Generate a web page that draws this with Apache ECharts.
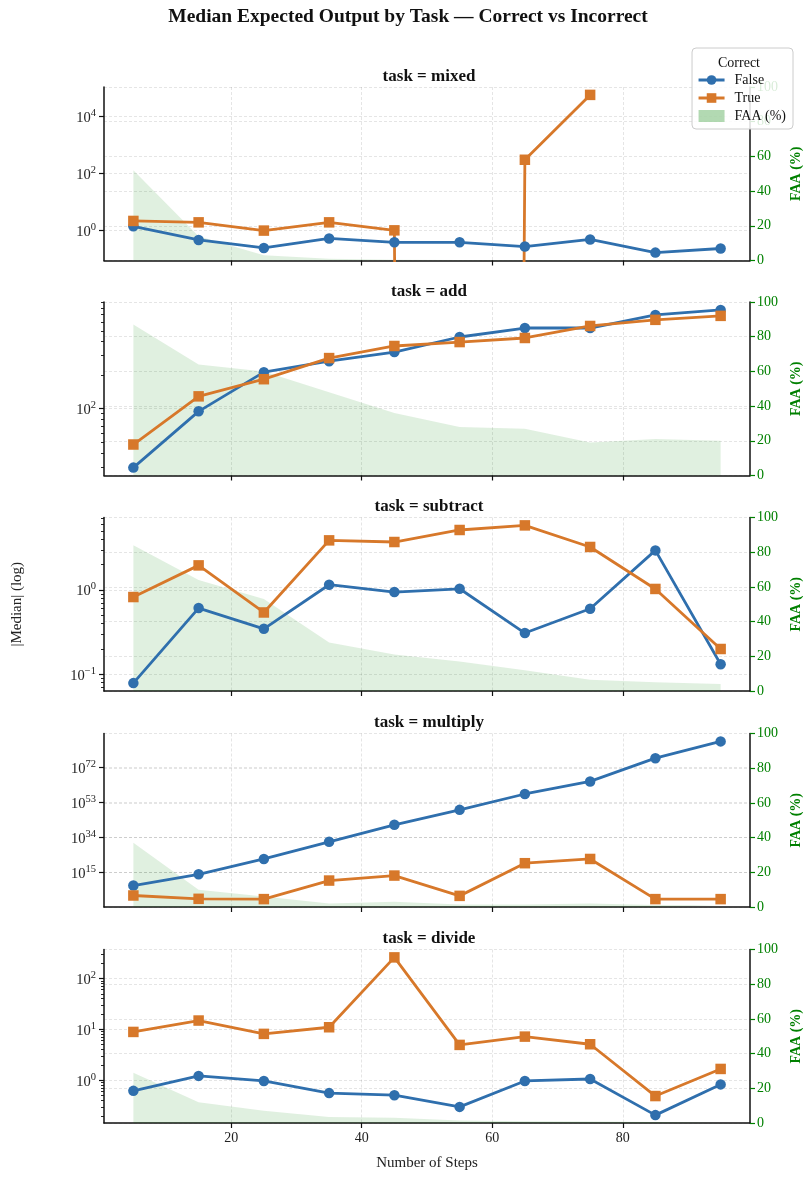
<!DOCTYPE html>
<html><head><meta charset="utf-8">
<script src="https://cdn.jsdelivr.net/npm/echarts@6/dist/echarts.min.js"></script>
<style>html,body{margin:0;padding:0;background:#fff}#c{width:806px;height:1178px}</style>
</head><body><div id="c"></div>
<script>
// ---------------- data ----------------
const steps = [5, 15, 25, 35, 45, 55, 65, 75, 85, 95];
const xTicks = [20, 40, 60, 80];
const tasks = ['mixed', 'add', 'subtract', 'multiply', 'divide'];

const mixedFalse = [1.38, 0.46, 0.24, 0.52, 0.38, 0.38, 0.27, 0.48, 0.165, 0.23];
const mixedTrue  = [2.14, 1.91, 0.98, 1.91, 1.0, 0, 302, 57500, null, null];
const mixedFAA   = [52, 14, 3, 1, 0.5, 0.3, 0.3, 0.3, 0.3, 0.3];

const addFalse = [29.5, 94.6, 213, 267, 323, 441, 531, 531, 697, 773];
const addTrue  = [47.6, 129, 184, 285, 366, 397, 432, 554, 629, 683];
const addFAA   = [87, 64, 60, 48, 36, 28, 27, 19, 21, 20];

const subtractFalse = [0.0788, 0.611, 0.347, 1.156, 0.946, 1.035, 0.309, 0.60, 2.95, 0.132];
const subtractTrue  = [0.826, 1.96, 0.542, 3.88, 3.71, 5.15, 5.84, 3.24, 1.03, 0.20];
const subtractFAA   = [84, 64, 53, 28, 21, 17, 12, 6.5, 5, 4];

const multiplyFalse = [1e8, 1.26e14, 2.5e22, 5e31, 7.9e40, 1e49, 4e57, 2.5e64, 1e77, 1.26e86];
const multiplyTrue  = [400, 6.3, 4.4, 5e10, 2.5e13, 250, 1.26e20, 2.5e22, 4.4, 4.4];
const multiplyFAA   = [37, 10, 6, 2, 3, 1.5, 1.5, 2, 1.2, 1];

const divideFalse = [0.62, 1.22, 0.97, 0.56, 0.51, 0.30, 0.97, 1.06, 0.207, 0.83];
const divideTrue  = [8.9, 14.9, 8.15, 11.0, 259, 4.95, 7.2, 5.1, 0.49, 1.67];
const divideFAA   = [29, 12, 7, 3.5, 3, 1.5, 1, 0.8, 0.6, 0.5];

const majorTicks = {
  mixed: [1, 100, 10000],
  add: [100],
  subtract: [0.1, 1],
  multiply: [1e15, 1e34, 1e53, 1e72],
  divide: [1, 10, 100]
};
const showMinor = { mixed: false, add: true, subtract: true, multiply: false, divide: true };

const panelData = {
  mixed: [mixedFalse, mixedTrue, mixedFAA],
  add: [addFalse, addTrue, addFAA],
  subtract: [subtractFalse, subtractTrue, subtractFAA],
  multiply: [multiplyFalse, multiplyTrue, multiplyFAA],
  divide: [divideFalse, divideTrue, divideFAA]
};

// ---------------- style ----------------
const SERIF = "'Liberation Serif', 'DejaVu Serif', serif";
const BLUE = '#2f6fad';
const ORANGE = '#d7782a';
const GREEN = '#008000';
const GRIDC = 'rgba(0,0,0,0.13)';
const plotLeft = 104, plotWidth = 646, plotH = 173.5;
const tops = [87, 302, 517.5, 733.5, 949.5];

function logLimits(arrs) {
  const ls = [];
  arrs.forEach(a => a.forEach(v => { if (v != null && v > 0) ls.push(Math.log10(v)); }));
  const lo = Math.min(...ls), hi = Math.max(...ls), pad = 0.05 * (hi - lo);
  return [Math.pow(10, lo - pad), Math.pow(10, hi + pad)];
}
function minorList(mn, mx) {
  const out = [];
  for (let d = Math.floor(Math.log10(mn)) - 1; d <= Math.ceil(Math.log10(mx)); d++) {
    for (let k = 2; k <= 9; k++) {
      const v = k * Math.pow(10, d);
      if (v >= mn && v <= mx) out.push(v);
    }
  }
  return out;
}
function expLabel(v) {
  const e = Math.round(Math.log10(v));
  return '{b|10}{s|' + String(e).replace('-', '\u2212') + '}';
}
const richLab = {
  b: { fontFamily: SERIF, fontSize: 14.5, color: '#222', verticalAlign: 'bottom' },
  s: { fontFamily: SERIF, fontSize: 10.5, color: '#222', verticalAlign: 'bottom', padding: [0, 0, 7, 0] }
};

const grid = [], xAxis = [], yAxis = [], series = [];
const titles = [{
  text: 'Median Expected Output by Task \u2014 Correct vs Incorrect',
  left: 403, top: 2, textAlign: 'center',
  textStyle: { fontFamily: SERIF, fontWeight: 'bold', fontSize: 19.5, color: '#111' }
}];

tasks.forEach((t, i) => {
  const [fv, tv, faa] = panelData[t];
  const [mn, mx] = logLimits([fv, tv]);
  const last = i === tasks.length - 1;
  grid.push({ left: plotLeft, width: plotWidth, top: tops[i], height: plotH,
    containLabel: false, outerBoundsMode: 'none' });
  titles.push({
    text: 'task = ' + t, left: plotLeft + plotWidth / 2 - 3, top: tops[i] - 24, textAlign: 'center',
    textStyle: { fontFamily: SERIF, fontWeight: 'bold', fontSize: 17, color: '#111' }
  });
  xAxis.push({
    type: 'value', gridIndex: i, min: 0.5, max: 99.5,
    axisLine: { show: true, onZero: false, lineStyle: { color: '#111', width: 1.5 } },
    axisTick: { show: true, customValues: xTicks, length: 5, lineStyle: { color: '#111', width: 1.2 } },
    axisLabel: { show: last, customValues: xTicks, margin: 8, fontFamily: SERIF, fontSize: 14, color: '#222' },
    splitLine: { show: true, lineStyle: { color: GRIDC, type: [3, 2], width: 0.8 } },
    name: last ? 'Number of Steps' : '', nameLocation: 'middle', nameGap: 33,
    nameTextStyle: { fontFamily: SERIF, fontSize: 15, color: '#222' }
  });
  const li = yAxis.length;
  yAxis.push({
    type: 'log', gridIndex: i, position: 'left', min: mn, max: mx,
    axisLine: { show: true, onZero: false, lineStyle: { color: '#111', width: 1.5 } },
    axisTick: { show: true, customValues: majorTicks[t], length: 5, lineStyle: { color: '#111', width: 1.2 } },
    axisLabel: { customValues: majorTicks[t], margin: 8, formatter: expLabel, rich: richLab },
    splitLine: { show: true, lineStyle: { color: GRIDC, type: [3, 2], width: 0.8 } },
    minorTick: { show: false },
    name: t === 'subtract' ? '|Median| (log)' : '', nameLocation: 'middle', nameGap: 79,
    nameTextStyle: { fontFamily: SERIF, fontSize: 15, color: '#222' }
  });
  yAxis.push({
    type: 'log', gridIndex: i, position: 'left', min: mn, max: mx,
    axisLine: { show: false },
    axisTick: { show: showMinor[t], customValues: minorList(mn, mx), length: 3, lineStyle: { color: '#111', width: 0.9 } },
    axisLabel: { show: false },
    splitLine: { show: false }
  });
  const ri = yAxis.length;
  yAxis.push({
    type: 'value', gridIndex: i, position: 'right', min: 0, max: 100, interval: 20,
    axisLine: { show: true, onZero: false, lineStyle: { color: '#111', width: 1.5 } },
    axisTick: { show: true, length: 5, lineStyle: { color: GREEN, width: 1.2 } },
    axisLabel: { margin: 7, fontFamily: SERIF, fontSize: 14, color: GREEN },
    splitLine: { show: true, lineStyle: { color: GRIDC, type: [3, 2], width: 0.8 } },
    name: 'FAA (%)', nameLocation: 'middle', nameGap: 35, nameRotate: 90,
    nameTextStyle: { fontFamily: SERIF, fontSize: 14, fontWeight: 'bold', color: GREEN }
  });
  series.push({
    type: 'line', name: 'FAA (%)', xAxisIndex: i, yAxisIndex: ri, z: 1, silent: true,
    data: steps.map((s, j) => [s, faa[j]]), symbol: 'none',
    lineStyle: { width: 0 }, areaStyle: { color: 'rgba(0,128,0,0.12)', opacity: 1 },
    itemStyle: { color: 'rgba(0,128,0,0.3)' }
  });
  const mk = (vals) => steps.map((s, j) => vals[j] == null ? [s, null] : [s, vals[j] === 0 ? 1e-300 : vals[j]]);
  series.push({
    type: 'line', name: 'False', xAxisIndex: i, yAxisIndex: li, z: 3,
    data: mk(fv), symbol: 'circle', symbolSize: 10.5, showAllSymbol: true,
    lineStyle: { width: 2.8, color: BLUE }, itemStyle: { color: BLUE }
  });
  series.push({
    type: 'line', name: 'True', xAxisIndex: i, yAxisIndex: li, z: 3,
    data: mk(tv), symbol: 'rect', symbolSize: 10.5, showAllSymbol: true,
    lineStyle: { width: 2.8, color: ORANGE }, itemStyle: { color: ORANGE }
  });
});

const chart = echarts.init(document.getElementById('c'), null, { renderer: 'canvas' });
chart.setOption({
  animation: false,
  backgroundColor: '#fff',
  title: titles,
  grid, xAxis, yAxis, series,
  legend: {
    orient: 'vertical', right: 13, top: 48,
    padding: [25, 7, 6, 5],
    backgroundColor: 'rgba(255,255,255,0.85)', borderColor: '#cccccc', borderWidth: 1, borderRadius: 4,
    itemWidth: 26, itemHeight: 12, itemGap: 4,
    lineStyle: { width: 3 },
    textStyle: { fontFamily: SERIF, fontSize: 14, color: '#111', padding: [0, 0, 0, 5] },
    data: [{ name: 'False' }, { name: 'True' },
      { name: 'FAA (%)', icon: 'rect', itemStyle: { color: 'rgba(0,128,0,0.3)' } }]
  },
  graphic: [{
    type: 'text', left: 718, top: 56, z: 100,
    style: { text: 'Correct', fontFamily: SERIF, fontSize: 14, fill: '#111' }
  }]
});
</script></body></html>
